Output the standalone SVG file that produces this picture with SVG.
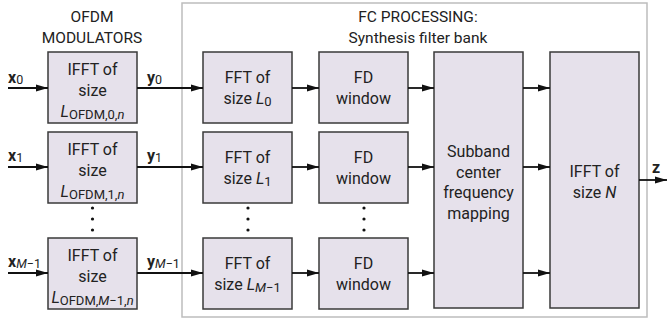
<svg xmlns="http://www.w3.org/2000/svg" width="668" height="324" viewBox="0 0 668 324">
<style>
text{font-family:Roboto,"Liberation Sans",sans-serif;fill:#222}
.box{fill:#e6e1eb;stroke:#3a3a3a;stroke-width:1.5}
.t{font-size:16px;text-anchor:middle}
.h{font-size:15.5px;text-anchor:middle}
.lbl{font-size:16px;font-weight:bold}
.sub{font-size:12.5px;font-weight:normal}
.it{font-style:italic}
.conn line{stroke:#111;stroke-width:1.8;marker-end:url(#ah)}
.dot{fill:#111}
</style>
<defs>
<marker id="ah" viewBox="0 0 12 8" refX="12" refY="4" markerWidth="12" markerHeight="8" markerUnits="userSpaceOnUse" orient="auto">
<path d="M0,0.6 L12,4 L0,7.4 Z" fill="#111"/>
</marker>
</defs>
<rect id="frame" x="182" y="3" width="465" height="314" fill="none" stroke="#bdbdbd" stroke-width="1.5"/>
<g id="title-ofdm"><text class="h" x="92" y="22">OFDM</text><text class="h" x="92" y="43">MODULATORS</text></g>
<g id="title-fc"><text class="h" x="418" y="22">FC PROCESSING:</text><text class="h" x="418" y="43">Synthesis filter bank</text></g>

<g id="ifft0"><rect class="box" x="48" y="52" width="89" height="71"/>
<text class="t" x="92.5" y="75">IFFT of</text><text class="t" x="92.5" y="96">size</text>
<text class="t" x="92.5" y="117"><tspan class="it">L</tspan><tspan font-size="13" dy="2">OFDM,0,<tspan class="it">n</tspan></tspan></text></g>
<g id="ifft1"><rect class="box" x="48" y="132" width="89" height="71"/>
<text class="t" x="92.5" y="155">IFFT of</text><text class="t" x="92.5" y="176">size</text>
<text class="t" x="92.5" y="197"><tspan class="it">L</tspan><tspan font-size="13" dy="2">OFDM,1,<tspan class="it">n</tspan></tspan></text></g>
<g id="ifftM"><rect class="box" x="48" y="238" width="89" height="71"/>
<text class="t" x="92.5" y="261">IFFT of</text><text class="t" x="92.5" y="282">size</text>
<text class="t" x="92.5" y="303"><tspan class="it">L</tspan><tspan font-size="13" dy="2">OFDM,<tspan class="it">M</tspan>−1,<tspan class="it">n</tspan></tspan></text></g>

<g id="fft0"><rect class="box" x="203" y="52" width="89" height="71"/>
<text class="t" x="247.5" y="83">FFT of</text><text class="t" x="247.5" y="104">size <tspan class="it">L</tspan><tspan font-size="13" dy="2">0</tspan></text></g>
<g id="fft1"><rect class="box" x="203" y="132" width="89" height="71"/>
<text class="t" x="247.5" y="163">FFT of</text><text class="t" x="247.5" y="184">size <tspan class="it">L</tspan><tspan font-size="13" dy="2">1</tspan></text></g>
<g id="fftM"><rect class="box" x="203" y="238" width="89" height="71"/>
<text class="t" x="247.5" y="269">FFT of</text><text class="t" x="247.5" y="290">size <tspan class="it">L</tspan><tspan font-size="13" dy="2"><tspan class="it">M</tspan>−1</tspan></text></g>

<g id="fd0"><rect class="box" x="319" y="52" width="89" height="71"/>
<text class="t" x="363.5" y="83">FD</text><text class="t" x="363.5" y="104">window</text></g>
<g id="fd1"><rect class="box" x="319" y="132" width="89" height="71"/>
<text class="t" x="363.5" y="163">FD</text><text class="t" x="363.5" y="184">window</text></g>
<g id="fdM"><rect class="box" x="319" y="238" width="89" height="71"/>
<text class="t" x="363.5" y="269">FD</text><text class="t" x="363.5" y="290">window</text></g>

<g id="mapping"><rect class="box" x="434" y="52" width="89" height="256"/>
<text class="t" x="478.5" y="157">Subband</text><text class="t" x="478.5" y="177.5">center</text>
<text class="t" x="478.5" y="198">frequency</text><text class="t" x="478.5" y="218.5">mapping</text></g>
<g id="ifftN"><rect class="box" x="550" y="52" width="89" height="256"/>
<text class="t" x="594.5" y="177">IFFT of</text><text class="t" x="594.5" y="198">size <tspan class="it">N</tspan></text></g>

<g id="dots">
<circle class="dot" cx="92.5" cy="208" r="1.6"/><circle class="dot" cx="92.5" cy="219" r="1.6"/><circle class="dot" cx="92.5" cy="230" r="1.6"/>
<circle class="dot" cx="248" cy="208" r="1.6"/><circle class="dot" cx="248" cy="219" r="1.6"/><circle class="dot" cx="248" cy="230" r="1.6"/>
<circle class="dot" cx="364" cy="208" r="1.6"/><circle class="dot" cx="364" cy="219" r="1.6"/><circle class="dot" cx="364" cy="230" r="1.6"/>
</g>

<g id="labels">
<text class="lbl" x="8" y="83">x<tspan class="sub" dy="1">0</tspan></text>
<text class="lbl" x="8" y="161">x<tspan class="sub" dy="1">1</tspan></text>
<text class="lbl" x="8" y="267">x<tspan class="sub" dy="1"><tspan class="it">M</tspan>−1</tspan></text>
<text class="lbl" x="147" y="83">y<tspan class="sub" dy="1">0</tspan></text>
<text class="lbl" x="147" y="161">y<tspan class="sub" dy="1">1</tspan></text>
<text class="lbl" x="147" y="267">y<tspan class="sub" dy="1"><tspan class="it">M</tspan>−1</tspan></text>
<text class="lbl" x="652" y="173">z</text>
</g>

<g id="connectors" class="conn">
<line x1="8" y1="88" x2="48" y2="88"/><line x1="8" y1="167" x2="48" y2="167"/><line x1="8" y1="273" x2="48" y2="273"/>
<line x1="137" y1="88" x2="203" y2="88"/><line x1="137" y1="167" x2="203" y2="167"/><line x1="137" y1="273" x2="203" y2="273"/>
<line x1="292" y1="88" x2="319" y2="88"/><line x1="292" y1="167" x2="319" y2="167"/><line x1="292" y1="273" x2="319" y2="273"/>
<line x1="408" y1="88" x2="434" y2="88"/><line x1="408" y1="167" x2="434" y2="167"/><line x1="408" y1="273" x2="434" y2="273"/>
<line x1="523" y1="88" x2="550" y2="88"/><line x1="523" y1="167" x2="550" y2="167"/><line x1="523" y1="273" x2="550" y2="273"/>
<line x1="639" y1="180" x2="667" y2="180"/>
</g>
</svg>
